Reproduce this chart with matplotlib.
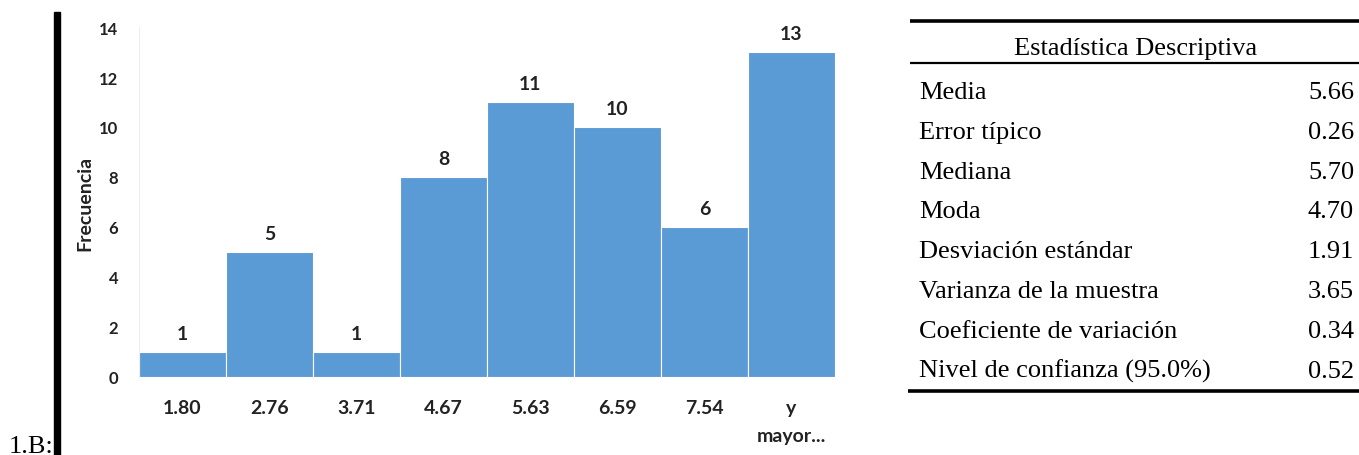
import matplotlib
matplotlib.use("Agg")
import matplotlib.pyplot as plt
import numpy as np

# histogram data
clases = ['1.80', '2.76', '3.71', '4.67', '5.63', '6.59', '7.54', 'y\nmayor...']
frecuencia = [1, 5, 1, 8, 11, 10, 6, 13]

# descriptive statistics table
estadisticos = ['Media', 'Error típico', 'Mediana', 'Moda', 'Desviación estándar',
                'Varianza de la muestra', 'Coeficiente de variación',
                'Nivel de confianza (95.0%)']
valores = ['5.66', '0.26', '5.70', '4.70', '1.91', '3.65', '0.34', '0.52']

W, H = 1359, 456
fig = plt.figure(figsize=(W / 100, H / 100), dpi=100)

def px(x0, y0, x1, y1):
    # pixel box (top-left origin) -> figure fraction rect
    return [x0 / W, 1 - y1 / H, (x1 - x0) / W, (y1 - y0) / H]

# --- histogram ---
ax = fig.add_axes(px(139, 28, 835, 378))
pos = np.arange(len(frecuencia))
ax.bar(pos, frecuencia, width=1.0, color='#5B9BD5', edgecolor='white', linewidth=0.8)
for p, f in zip(pos, frecuencia):
    ax.text(p, f + 0.4, str(f), ha='center', va='bottom',
            fontsize=14, fontweight='bold', family='Lato', color='#222222')
ax.set_xlim(-0.5, len(frecuencia) - 0.5)
ax.set_ylim(0, 14)
ax.set_yticks(range(0, 15, 2))
ax.set_xticks(pos)
ax.set_xticklabels(clases, fontsize=14, fontweight='bold', family='Lato',
                   color='#222222', linespacing=1.75, va='top')
for lab in ax.get_yticklabels():
    lab.set_fontsize(12)
    lab.set_fontweight('bold')
    lab.set_family('Lato')
    lab.set_color('#222222')
ax.tick_params(axis='both', length=0)
ax.tick_params(axis='x', pad=16)
ax.tick_params(axis='y', pad=15)
for s in ['top', 'right', 'bottom']:
    ax.spines[s].set_visible(False)
ax.spines['left'].set_color('#eeeeee')
ax.set_ylabel('Frecuencia', fontsize=14, fontweight='bold', family='Lato',
              color='#222222', labelpad=4)

# black bar and label on the left
fig.add_artist(plt.Rectangle((54 / W, 0), 6 / W, 1 - 13 / H,
                             transform=fig.transFigure, color='black'))
fig.text(9 / W, 1 - 453 / H, '1.B:', fontsize=19, family='Liberation Serif',
         va='baseline', ha='left')

# --- statistics table ---
tx = fig.add_axes(px(908, 0, W, H))
tx.set_xlim(0, W - 908)
tx.set_ylim(H, 0)
tx.axis('off')
tx.plot([2, 451], [22, 22], color='black', lw=2.6, solid_capstyle='butt')
tx.plot([2, 451], [64, 64], color='black', lw=1.6, solid_capstyle='butt')
tx.plot([0, 451], [392, 392], color='black', lw=2.6, solid_capstyle='butt')
tx.text(228, 55, 'Estadística Descriptiva', ha='center', va='baseline',
        fontsize=19, family='Liberation Serif')
for i, (n, v) in enumerate(zip(estadisticos, valores)):
    y = 99 + i * 39.8
    tx.text(11, y, n, ha='left', va='baseline', fontsize=19, family='Liberation Serif')
    tx.text(446, y, v, ha='right', va='baseline', fontsize=19, family='Liberation Serif')

fig.savefig('out.png', dpi=100)
